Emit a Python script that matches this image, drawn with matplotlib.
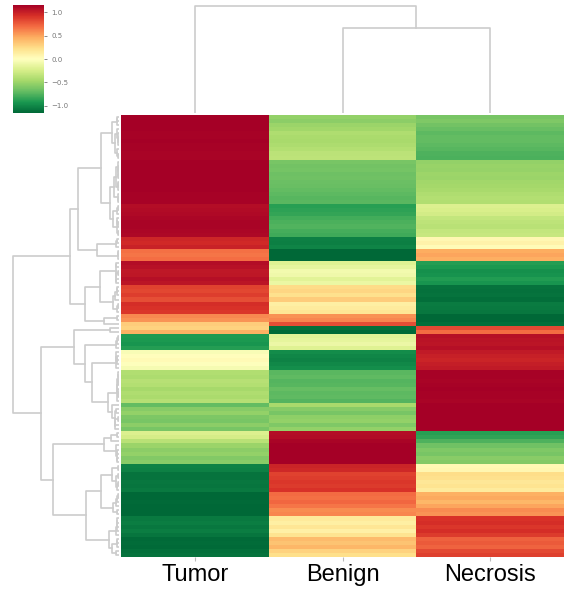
import matplotlib
matplotlib.use("Agg")
import matplotlib.pyplot as plt
import numpy as np

# values per row, in the order the rows appear (top to bottom)
samples = ["Tumor", "Benign", "Necrosis"]

tumor = [1.15, 1.15, 1.14, 1.15, 1.15, 1.14, 1.15, 1.15, 1.14, 1.15,
         1.15, 1.15, 1.15, 1.14, 1.15, 1.15, 1.14, 1.15, 1.15, 1.14,
         1.15, 1.14, 1.10, 1.10, 1.11, 1.12, 1.12, 1.13, 1.12, 1.12,
         0.92, 0.90, 0.93, 0.66, 0.64, 0.68, 1.10, 1.08, 1.05, 1.06,
         1.09, 1.07, 0.82, 0.80, 0.84, 0.78, 0.92, 0.90, 0.88, 0.62,
         0.58, 0.35, 0.28, 0.45, -0.90, -0.92, -0.95, -0.88, -0.05, 0.00,
         0.02, -0.02, -0.06, -0.40, -0.42, -0.38, -0.40, -0.44, -0.41, -0.43,
         -0.39, -0.70, -0.55, -0.50, -0.58, -0.60, -0.53, -0.56, -0.20, -0.25,
         -0.40, -0.50, -0.55, -0.52, -0.58, -0.56, -1.05, -1.03, -1.00, -1.02,
         -1.15, -1.14, -1.15, -1.15, -1.15, -1.14, -1.15, -1.15, -1.15, -1.10,
         -1.08, -1.10, -1.12, -1.09, -1.15, -1.15, -1.14, -1.15, -1.15]

benign = [-0.52, -0.56, -0.50, -0.47, -0.42, -0.44, -0.45, -0.43, -0.40, -0.38,
          -0.37, -0.62, -0.64, -0.63, -0.66, -0.65, -0.67, -0.68, -0.70, -0.72,
          -0.74, -0.73, -0.90, -0.88, -0.86, -0.80, -0.78, -0.76, -0.80, -0.82,
          -1.00, -1.02, -0.98, -1.15, -1.14, -1.15, -0.20, -0.15, -0.08, -0.10,
          -0.18, -0.12, 0.22, 0.25, 0.20, 0.30, 0.12, 0.15, 0.18, 0.60,
          0.62, 0.85, -1.10, -1.12, -0.18, -0.15, -0.12, -0.20, -0.98, -1.02,
          -1.05, -1.00, -0.96, -0.72, -0.70, -0.74, -0.73, -0.68, -0.71, -0.69,
          -0.75, -0.45, -0.55, -0.60, -0.52, -0.50, -0.57, -0.46, 1.15, 1.15,
          1.15, 1.15, 1.15, 1.15, 1.14, 1.15, 1.00, 0.98, 0.78, 0.80,
          0.90, 0.88, 0.92, 0.70, 0.68, 0.72, 0.66, 0.58, 0.60, 0.15,
          0.12, 0.18, 0.10, 0.20, 0.38, 0.35, 0.40, 0.28, 0.22]

necrosis = [-0.62, -0.60, -0.64, -0.68, -0.72, -0.70, -0.70, -0.72, -0.74, -0.78,
            -0.80, -0.52, -0.50, -0.51, -0.49, -0.50, -0.47, -0.46, -0.45, -0.42,
            -0.40, -0.41, -0.22, -0.24, -0.27, -0.33, -0.36, -0.38, -0.34, -0.32,
            0.05, 0.08, 0.02, 0.45, 0.47, 0.44, -0.90, -0.93, -0.97, -0.96,
            -0.91, -0.95, -1.10, -1.10, -1.10, -1.12, -1.05, -1.05, -1.06, -1.15,
            -1.15, -1.12, 0.80, 0.70, 1.05, 1.05, 1.06, 1.04, 1.00, 0.98,
            0.96, 1.00, 1.01, 1.15, 1.15, 1.14, 1.15, 1.15, 1.15, 1.14,
            1.15, 1.15, 1.15, 1.15, 1.14, 1.15, 1.15, 1.14, -0.90, -0.88,
            -0.80, -0.65, -0.60, -0.62, -0.56, -0.59, 0.05, 0.08, 0.22, 0.20,
            0.15, 0.18, 0.12, 0.45, 0.47, 0.42, 0.49, 0.58, 0.55, 0.92,
            0.95, 0.90, 0.96, 0.88, 0.72, 0.75, 0.70, 0.82, 0.88]


def z_score_rows(data):
    mean = data.mean(axis=1, keepdims=True)
    std = data.std(axis=1, ddof=1, keepdims=True)
    return (data - mean) / std


def ordered_linkage(vectors):
    """Average linkage where only neighbouring clusters merge (keeps leaf order)."""
    clusters = [([i], i + 0.5, 0.0) for i in range(len(vectors))]
    links = []
    while len(clusters) > 1:
        best, best_d = 0, np.inf
        for k in range(len(clusters) - 1):
            a = vectors[clusters[k][0]]
            b = vectors[clusters[k + 1][0]]
            d = np.linalg.norm(a[:, None, :] - b[None, :, :], axis=2).mean()
            if d < best_d:
                best, best_d = k, d
        left, right = clusters[best], clusters[best + 1]
        h = max(best_d, left[2], right[2])
        links.append((left[1], left[2], right[1], right[2], h))
        clusters[best:best + 2] = [(left[0] + right[0], (left[1] + right[1]) / 2, h)]
    return links


data = z_score_rows(np.column_stack([tumor, benign, necrosis]))
n_rows, n_cols = data.shape
vlim = 2 / np.sqrt(3)

row_links = ordered_linkage(data)
col_links = ordered_linkage(data.T)

W, H = 572, 590
fig = plt.figure(figsize=(W / 100, H / 100), dpi=100)


def box(x0, y0, x1, y1):
    return [x0 / W, 1 - y1 / H, (x1 - x0) / W, (y1 - y0) / H]


ax_heat = fig.add_axes(box(121, 115, 564, 557))
ax_row = fig.add_axes(box(8, 115, 119, 557))
ax_col = fig.add_axes(box(121, 0.6, 564, 113))
ax_cbar = fig.add_axes(box(13, 5, 44, 113))

mesh = ax_heat.pcolormesh(np.arange(n_cols + 1), np.arange(n_rows + 1), data,
                          cmap="RdYlGn_r", vmin=-vlim, vmax=vlim)
ax_heat.set_xlim(0, n_cols)
ax_heat.set_ylim(n_rows, 0)
ax_heat.set_xticks(np.arange(n_cols) + 0.5)
ax_heat.set_xticklabels(samples, fontsize=17, family="Liberation Sans")
ax_heat.tick_params(axis="x", length=3, color="#bbbbbb", pad=2)
ax_heat.set_yticks([])
for s in ax_heat.spines.values():
    s.set_visible(False)

line_kw = dict(color="#cccccc", lw=1.2)
for p1, h1, p2, h2, h in row_links:
    ax_row.plot([h1, h, h, h2], [p1, p1, p2, p2], **line_kw)
ax_row.set_xlim(max(l[4] for l in row_links) * 1.05, 0)
ax_row.set_ylim(n_rows, 0)
ax_row.axis("off")

for p1, h1, p2, h2, h in col_links:
    ax_col.plot([p1, p1, p2, p2], [h1, h, h, h2], **line_kw)
ax_col.set_xlim(0, n_cols)
ax_col.set_ylim(0, max(l[4] for l in col_links) * 1.05)
ax_col.axis("off")

cbar = fig.colorbar(mesh, cax=ax_cbar, ticks=[-1, -0.5, 0, 0.5, 1])
cbar.outline.set_visible(False)
cbar.ax.tick_params(labelsize=5, colors="#777777", length=2, width=0.6)

fig.savefig("out.png", dpi=100)
